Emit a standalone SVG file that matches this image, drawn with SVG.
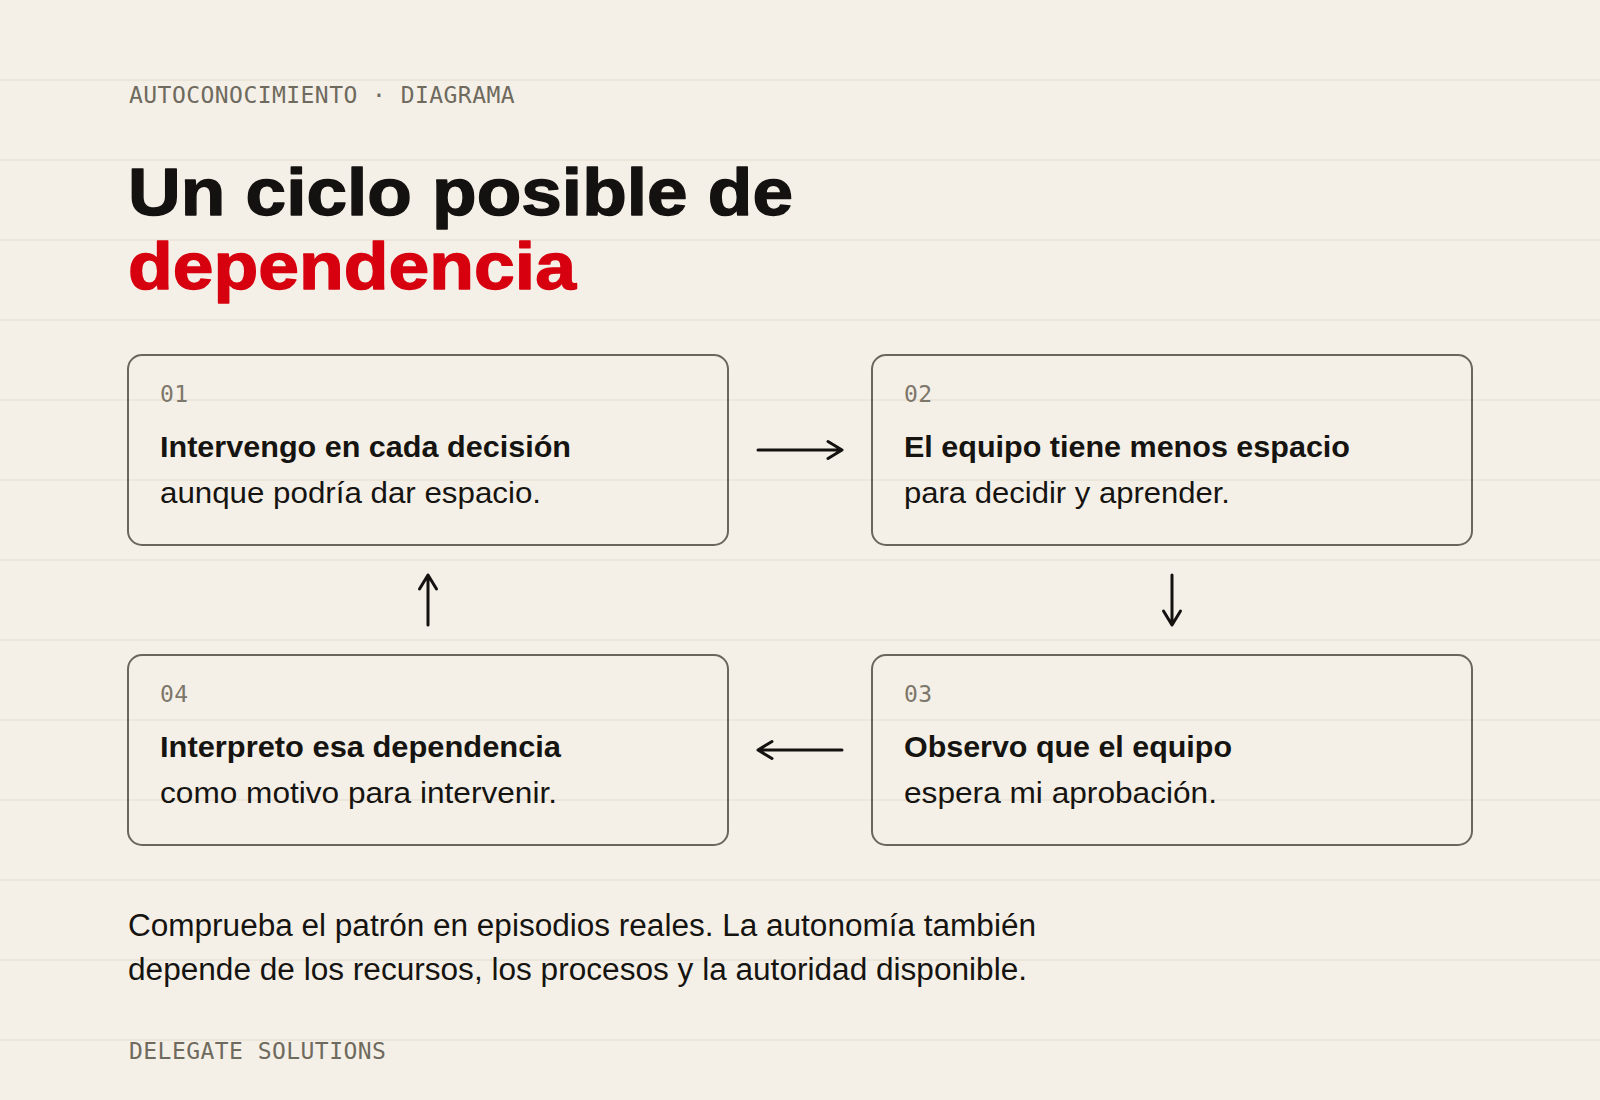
<svg xmlns="http://www.w3.org/2000/svg" width="1600" height="1100" viewBox="0 0 1600 1100">
  <defs>
    <style>
      .mono { font-family: "DejaVu Sans Mono", "Liberation Mono", monospace; font-size: 23px; letter-spacing: 0.45px; fill: #6f6a5e; }
      .num { font-family: "DejaVu Sans Mono", "Liberation Mono", monospace; font-size: 23px; letter-spacing: 0.3px; fill: #7d776b; }
      .title { font-family: "Liberation Sans", Arial, sans-serif; font-weight: 700; font-size: 67px; stroke-width: 1.4px; stroke-linejoin: round; }
      .bold { font-family: "Liberation Sans", Arial, sans-serif; font-weight: 700; font-size: 30px; fill: #161411; }
      .reg { font-family: "Liberation Sans", Arial, sans-serif; font-size: 30px; fill: #161411; }
      .body { font-family: "Liberation Sans", Arial, sans-serif; font-size: 31px; fill: #161411; }
      .box { fill: none; stroke: #6b665b; stroke-width: 2; }
      .grid line { stroke: #ebe5da; stroke-width: 2; }
      .conn path { fill: none; stroke: #141210; stroke-width: 3; stroke-linecap: round; stroke-linejoin: round; }
    </style>
  </defs>
  <rect x="0" y="0" width="1600" height="1100" fill="#f5f0e7"/>
  <g class="grid">
    <line x1="0" y1="80" x2="1600" y2="80"/>
    <line x1="0" y1="160" x2="1600" y2="160"/>
    <line x1="0" y1="240" x2="1600" y2="240"/>
    <line x1="0" y1="320" x2="1600" y2="320"/>
    <line x1="0" y1="400" x2="1600" y2="400"/>
    <line x1="0" y1="480" x2="1600" y2="480"/>
    <line x1="0" y1="560" x2="1600" y2="560"/>
    <line x1="0" y1="640" x2="1600" y2="640"/>
    <line x1="0" y1="720" x2="1600" y2="720"/>
    <line x1="0" y1="800" x2="1600" y2="800"/>
    <line x1="0" y1="880" x2="1600" y2="880"/>
    <line x1="0" y1="960" x2="1600" y2="960"/>
    <line x1="0" y1="1040" x2="1600" y2="1040"/>
  </g>

  <g id="header">
    <text class="mono" x="129" y="102.5">AUTOCONOCIMIENTO · DIAGRAMA</text>
    <text class="title" x="128" y="215" fill="#141210" stroke="#141210" textLength="665" lengthAdjust="spacingAndGlyphs">Un ciclo posible de</text>
    <text class="title" x="128" y="289" fill="#d7000f" stroke="#d7000f" textLength="448" lengthAdjust="spacingAndGlyphs">dependencia</text>
  </g>

  <g id="node-01">
    <rect class="box" x="128" y="355" width="600" height="190" rx="14"/>
    <text class="num" x="160" y="402">01</text>
    <text class="bold" x="160" y="456.5" textLength="411" lengthAdjust="spacingAndGlyphs">Intervengo en cada decisión</text>
    <text class="reg" x="160" y="503" textLength="381" lengthAdjust="spacingAndGlyphs">aunque podría dar espacio.</text>
  </g>

  <g id="node-02">
    <rect class="box" x="872" y="355" width="600" height="190" rx="14"/>
    <text class="num" x="904" y="402">02</text>
    <text class="bold" x="904" y="456.5" textLength="446" lengthAdjust="spacingAndGlyphs">El equipo tiene menos espacio</text>
    <text class="reg" x="904" y="503" textLength="326" lengthAdjust="spacingAndGlyphs">para decidir y aprender.</text>
  </g>

  <g id="node-03">
    <rect class="box" x="872" y="655" width="600" height="190" rx="14"/>
    <text class="num" x="904" y="702">03</text>
    <text class="bold" x="904" y="756.5" textLength="328" lengthAdjust="spacingAndGlyphs">Observo que el equipo</text>
    <text class="reg" x="904" y="803" textLength="313" lengthAdjust="spacingAndGlyphs">espera mi aprobación.</text>
  </g>

  <g id="node-04">
    <rect class="box" x="128" y="655" width="600" height="190" rx="14"/>
    <text class="num" x="160" y="702">04</text>
    <text class="bold" x="160" y="756.5" textLength="401" lengthAdjust="spacingAndGlyphs">Interpreto esa dependencia</text>
    <text class="reg" x="160" y="803" textLength="397" lengthAdjust="spacingAndGlyphs">como motivo para intervenir.</text>
  </g>

  <g id="connectors" class="conn">
    <path d="M758 450 H842 M828 441.5 L842 450 L828 458.5"/>
    <path d="M1172 575 V625 M1163.5 611 L1172 625 L1180.5 611"/>
    <path d="M842 750 H758 M772 741.5 L758 750 L772 758.5"/>
    <path d="M428 625 V575 M419.5 589 L428 575 L436.5 589"/>
  </g>

  <g id="note">
    <text class="body" x="128" y="935.5" textLength="908" lengthAdjust="spacingAndGlyphs">Comprueba el patrón en episodios reales. La autonomía también</text>
    <text class="body" x="128" y="979.5" textLength="899" lengthAdjust="spacingAndGlyphs">depende de los recursos, los procesos y la autoridad disponible.</text>
  </g>

  <g id="footer">
    <text class="mono" x="129" y="1059">DELEGATE SOLUTIONS</text>
  </g>
</svg>
